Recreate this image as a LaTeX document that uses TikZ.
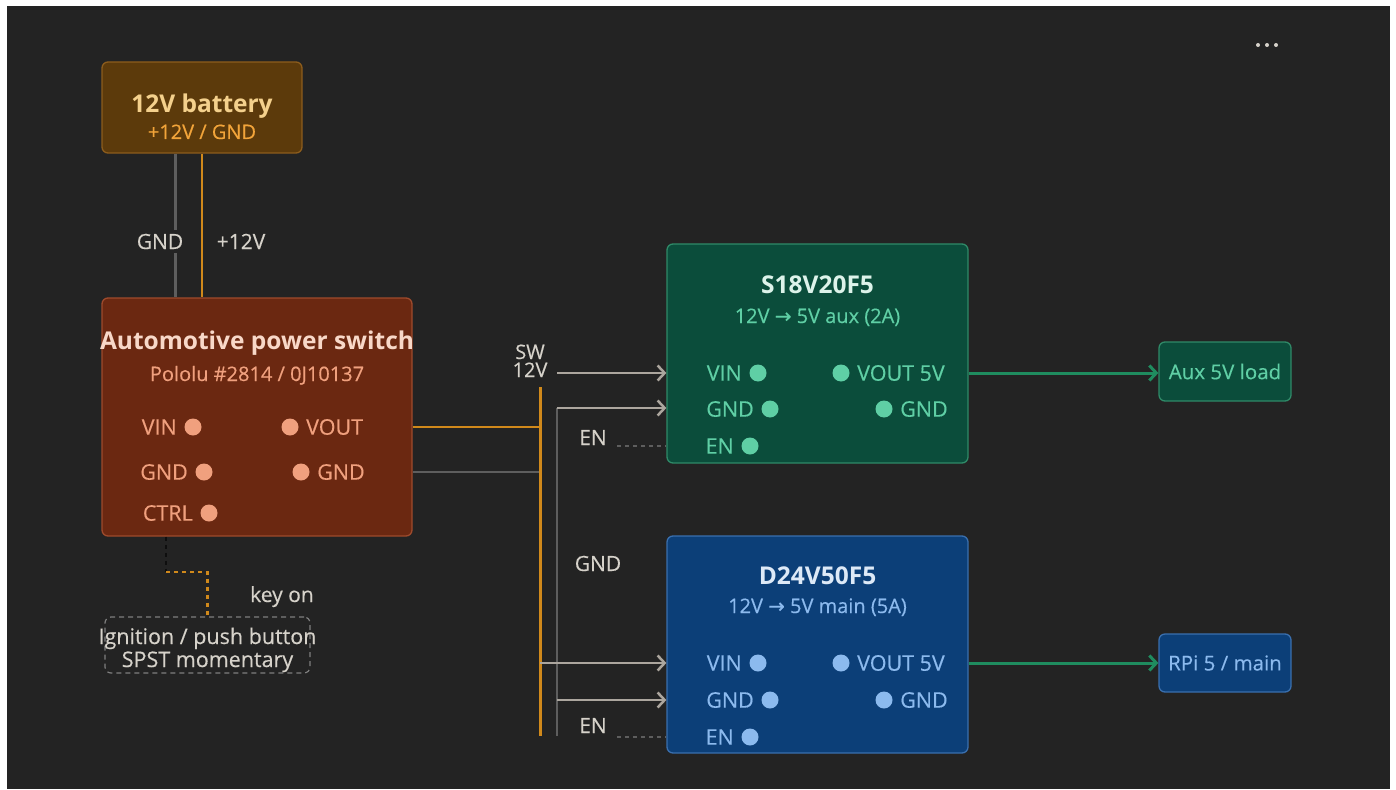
\documentclass[tikz,border=0pt]{standalone}
\usepackage{fontspec}
\setmainfont{Open Sans}
\newfontfamily\medium{Open Sans}[FakeBold=0.35]
\newfontfamily\arrowfont{DejaVu Sans}[FakeBold=0.35]
\usetikzlibrary{positioning,arrows.meta}

\definecolor{bg}{HTML}{232323}
\definecolor{lbl}{HTML}{D6D2CA}
\definecolor{wire}{HTML}{ACA69E}
\definecolor{gndwire}{HTML}{5E5E5E}
\definecolor{ampwire}{HTML}{D0891B}
% battery
\definecolor{batfill}{HTML}{5C3A0B}
\definecolor{batline}{HTML}{8C5C1C}
\definecolor{battitle}{HTML}{F4D08C}
\definecolor{batsub}{HTML}{F2A43A}
% power switch
\definecolor{swfill}{HTML}{6B2811}
\definecolor{swline}{HTML}{9E4A2C}
\definecolor{swtitle}{HTML}{F8D8C8}
\definecolor{swpin}{HTML}{F0A07E}
% aux regulator
\definecolor{grfill}{HTML}{0B4D3B}
\definecolor{grline}{HTML}{2F8A68}
\definecolor{grtitle}{HTML}{DDF3EA}
\definecolor{grpin}{HTML}{5FCFA5}
\definecolor{grwire}{HTML}{1F8C5F}
% main regulator
\definecolor{blfill}{HTML}{0C3F78}
\definecolor{blline}{HTML}{3A6FAE}
\definecolor{bltitle}{HTML}{DDE9F7}
\definecolor{blpin}{HTML}{8CBAEE}

% pin with label on the left / on the right of its dot
\newcommand{\pinin}[5]{%
  \coordinate (#1) at (#2,#3);
  \fill[#5] (#1) circle (8.5pt);
  \node[pintxt,text=#5,anchor=east] (#1-t) at ([xshift=-16pt]#1) {#4};}
\newcommand{\pinout}[5]{%
  \coordinate (#1) at (#2,#3);
  \fill[#5] (#1) circle (8.5pt);
  \node[pintxt,text=#5,anchor=west] (#1-t) at ([xshift=16pt]#1) {#4};}
\newcommand{\rarr}{{\arrowfont →}}

\begin{document}
\begin{tikzpicture}[x=1pt,y=-1pt,
  box/.style={draw,line width=1.3pt,rounded corners=6pt,inner sep=0pt},
  ttl/.style={font=\fontsize{24.5}{28}\selectfont\bfseries,anchor=base,inner sep=0pt},
  sub/.style={font=\medium\fontsize{20}{24}\selectfont,anchor=base,inner sep=0pt},
  pintxt/.style={font=\medium\fontsize{21.5}{24}\selectfont,inner sep=0pt},
  lbltxt/.style={font=\medium\fontsize{21}{24}\selectfont,text=lbl,anchor=base,inner sep=0pt},
  wr/.style={line width=2.5pt,wire,-{Straight Barb[length=7pt,width=15pt]}},
  gw/.style={line width=2.5pt,gndwire},
  aw/.style={line width=2.5pt,ampwire},
  dw/.style={line width=1.3pt,gndwire,dash pattern=on 4pt off 4pt},
]
% background
\fill[white] (0,0) rectangle (1396,789);
\fill[bg] (7,6) rectangle (1390,789);
\foreach \x in {1258,1267,1276}
  \fill[lbl] (\x,45) circle (2pt);

% boxes
\node[box,draw=batline,fill=batfill,minimum width=200,minimum height=91] (bat) at (202,107.5) {};
\node[box,draw=swline,fill=swfill,minimum width=310,minimum height=238] (sw) at (257,417) {};
\node[box,draw=grline,fill=grfill,minimum width=301,minimum height=219] (s18) at (817.5,353.5) {};
\node[box,draw=blline,fill=blfill,minimum width=301,minimum height=217] (d24) at (817.5,644.5) {};
\node[box,draw=grline,fill=grfill,minimum width=132,minimum height=59,
  font=\medium\fontsize{20.5}{24}\selectfont,text=grpin] (aux) at (1225,371.5) {Aux 5V load};
\node[box,draw=blline,fill=blfill,minimum width=132,minimum height=58,
  font=\medium\fontsize{20.5}{24}\selectfont,text=blpin] (rpi) at (1225,663) {RPi 5 / main};
\node[box,draw=gndwire!80,line width=1.2pt,dash pattern=on 5pt off 4pt,
  minimum width=205,minimum height=56] (ign) at (207.5,645) {};

% battery
\node[ttl,text=battitle] (battl) at (202,113) {12V battery};
\node[sub,text=batsub] (batsb) at (202,139) {+12V / GND};

% power switch
\node[ttl,text=swtitle] (swtl) at (257,349) {Automotive power switch};
\node[sub,text=swpin] (swsb) at (257,381) {Pololu \#2814 / 0J10137};
\pinin{swvin}{193}{427}{VIN}{swpin}
\pinin{swgnd}{204}{472}{GND}{swpin}
\pinin{swctrl}{209}{513}{CTRL}{swpin}
\pinout{swvout}{290}{427}{VOUT}{swpin}
\pinout{swgndo}{301}{472}{GND}{swpin}

% S18V20F5
\node[ttl,text=grtitle] (s18tl) at (817.5,293) {S18V20F5};
\node[sub,text=grpin] (s18sb) at (817.5,323) {12V \rarr{} 5V aux (2A)};
\pinin{s18vin}{758}{373}{VIN}{grpin}
\pinin{s18gnd}{770}{409}{GND}{grpin}
\pinin{s18en}{750}{446}{EN}{grpin}
\pinout{s18vout}{841}{373}{VOUT 5V}{grpin}
\pinout{s18gndo}{884}{409}{GND}{grpin}

% D24V50F5
\node[ttl,text=bltitle] (d24tl) at (817.5,584) {D24V50F5};
\node[sub,text=blpin] (d24sb) at (817.5,613) {12V \rarr{} 5V main (5A)};
\pinin{d24vin}{758}{663}{VIN}{blpin}
\pinin{d24gnd}{770}{700}{GND}{blpin}
\pinin{d24en}{750}{737}{EN}{blpin}
\pinout{d24vout}{841}{663}{VOUT 5V}{blpin}
\pinout{d24gndo}{884}{700}{GND}{blpin}

% ignition button
\node[lbltxt,font=\medium\fontsize{21.5}{24}\selectfont] (ign1) at (207.5,644) {Ignition / push button};
\node[lbltxt,font=\medium\fontsize{21.5}{24}\selectfont] (ign2) at (207.5,667) {SPST momentary};

% battery wires
\draw[gw,line width=3pt] (bat.south) ++(-27,0) coordinate (batg) -- (batg |- sw.north);
\draw[aw] (bat.south) -- (bat.south |- sw.north);
\node[lbltxt,fill=bg,inner sep=4pt] (gndlbl) at (160,249) {GND};
\node[lbltxt] (p12lbl) at (241,249) {+12V};

% bus
\coordinate (abus) at (540,387);
\coordinate (abusb) at (540,736);
\coordinate (gbus) at (557,408);
\coordinate (gbusb) at (557,736);
\draw[aw] (sw.east |- swvout) -- (abus |- swvout);
\draw[gw] (sw.east |- swgndo) -- (abus |- swgndo);
\draw[aw,line width=3pt] (abus) -- (abusb);
\draw[gw] (gbusb) -- (gbus);
\node[lbltxt,align=center,font=\medium\fontsize{20}{18}\selectfont] (swlbl) at (530,377) {SW\\12V};
\node[lbltxt] (gndmid) at (598,571) {GND};
\node[lbltxt] (en1) at (593,445) {EN};
\node[lbltxt] (en2) at (593,733) {EN};

% to regulators
\draw[wr] (gbus |- s18vin) -- (s18.west |- s18vin);
\draw[wr] (gbus) -- (s18.west |- gbus);
\draw[dw] ([xshift=10pt]en1.east |- s18en) -- (s18.west |- s18en);
\draw[wr] (abusb |- d24vin) -- (d24.west |- d24vin);
\draw[wr] (gbusb |- d24gnd) -- (d24.west |- d24gnd);
\draw[dw] ([xshift=10pt]en2.east |- d24en) -- (d24.west |- d24en);

% outputs
\draw[wr,grwire,line width=3pt] (s18.east |- s18vout) -- (aux.west |- s18vout);
\draw[wr,grwire,line width=3pt] (d24.east |- d24vout) -- (rpi.west |- d24vout);

% ctrl
\coordinate (ctrlb) at (166,572);
\draw[dw,line width=2pt,gndwire!150] (ctrlb |- sw.south) -- (ctrlb);
\draw[dw,line width=2.5pt,ampwire] (ctrlb) -| (ign.north);
\node[lbltxt] (keyon) at (282,602) {key on};
\end{tikzpicture}
\end{document}
